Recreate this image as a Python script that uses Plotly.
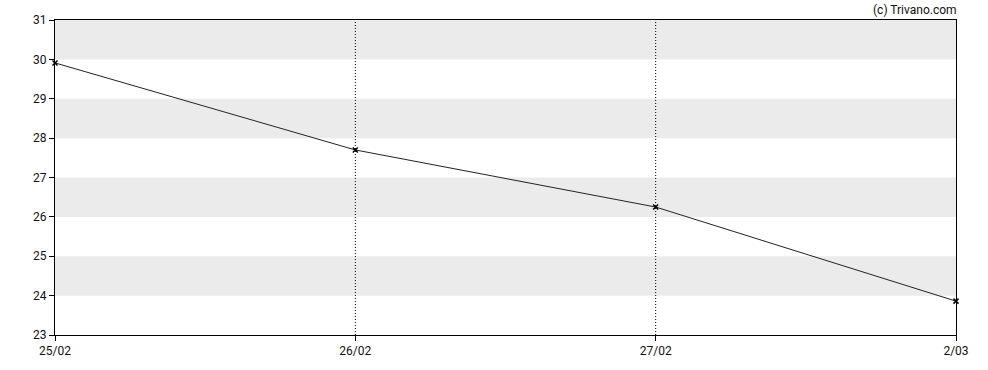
import plotly.graph_objects as go

dates = ["25/02", "26/02", "27/02", "2/03"]
prices = [29.91, 27.70, 26.25, 23.86]
y_ticks = [23, 24, 25, 26, 27, 28, 29, 30, 31]
band_ranges = [(24, 25), (26, 27), (28, 29), (30, 31)]

xs = list(range(len(dates)))

fig = go.Figure()
fig.add_trace(go.Scatter(
    x=xs, y=prices, mode="lines+markers",
    line=dict(color="#222222", width=1),
    marker=dict(symbol="x-thin", size=5, color="#000000",
                line=dict(width=1.5, color="#000000")),
    cliponaxis=False, showlegend=False, hoverinfo="skip"))

shapes = []
for lo, hi in band_ranges:
    shapes.append(dict(type="rect", xref="paper", yref="y", x0=0, x1=1,
                       y0=lo, y1=hi, fillcolor="#ebebeb", line=dict(width=0),
                       layer="below"))
for xv in xs[1:-1]:
    shapes.append(dict(type="line", xref="x", yref="paper", x0=xv, x1=xv,
                       y0=0, y1=1, line=dict(color="#000000", width=1, dash="1px,2px"),
                       layer="below"))

fig.update_layout(
    width=988, height=370,
    margin=dict(l=55, r=32, t=20, b=35),
    paper_bgcolor="white", plot_bgcolor="white",
    font=dict(family="Roboto", size=12, color="#111111"),
    shapes=shapes,
    xaxis=dict(range=[0, 3], tickvals=xs, ticktext=dates, showgrid=False,
               zeroline=False, showline=True, linecolor="black", linewidth=1,
               mirror=True, ticks="outside", ticklen=5, tickcolor="black"),
    yaxis=dict(range=[23, 31], tickvals=y_ticks, showgrid=False,
               zeroline=False, showline=True, linecolor="black", linewidth=1,
               mirror=True, ticks="outside", ticklen=5, tickcolor="black"),
    annotations=[dict(text="(c) Trivano.com", xref="paper", yref="paper",
                      x=1, y=1, xanchor="right", yanchor="bottom", yshift=1, xshift=3,
                      showarrow=False, font=dict(family="Roboto", size=12, color="#111111"))],
)

fig.write_html("out.html")
